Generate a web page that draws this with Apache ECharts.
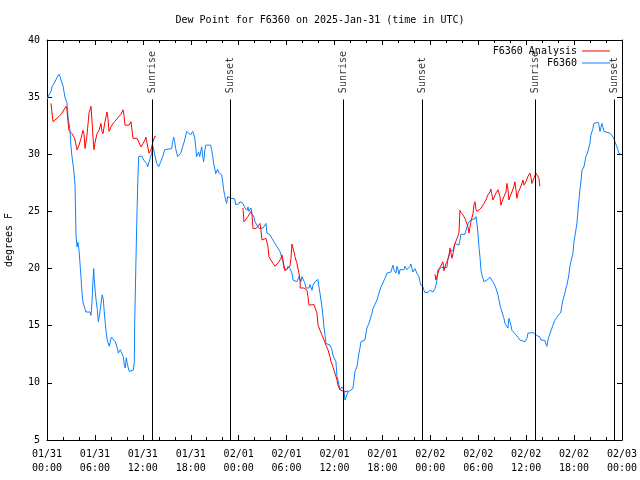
<!DOCTYPE html>
<html><head><meta charset="utf-8">
<script src="https://cdn.jsdelivr.net/npm/echarts@6/dist/echarts.min.js"></script>
<style>html,body{margin:0;padding:0;background:#fff}#c{width:640px;height:480px}</style>
</head><body><div id="c"></div>
<script>
// hours since 2025-01-31 00:00 UTC
const obsHours = [0.00,0.25,0.50,0.63,0.88,1.00,1.25,1.50,1.63,1.75,2.00,2.25,2.50,2.63,2.88,3.00,3.13,3.26,3.38,3.51,3.63,3.76,3.88,4.01,4.13,4.26,4.38,4.51,4.76,4.88,5.38,5.51,5.63,5.76,5.85,5.92,6.05,6.17,6.30,6.42,6.55,6.80,6.92,7.05,7.17,7.30,7.42,7.55,7.80,8.05,8.30,8.55,8.80,8.93,9.18,9.43,9.55,9.68,9.80,9.93,10.05,10.18,10.30,10.43,10.55,10.80,10.93,10.98,11.11,11.23,11.36,11.48,11.86,12.11,12.48,12.61,12.86,13.11,13.23,13.36,13.48,13.73,13.98,14.24,14.49,14.74,14.99,15.61,15.74,15.86,15.99,16.11,16.36,16.49,16.74,16.99,17.24,17.49,17.74,17.99,18.24,18.49,18.62,18.74,18.99,19.12,19.24,19.37,19.49,19.62,19.74,19.87,19.99,20.49,20.62,20.75,20.87,21.00,21.12,21.37,21.50,21.75,21.87,22.00,22.12,22.25,22.37,22.50,22.62,22.87,23.00,23.25,23.50,23.62,24.00,24.16,24.41,24.54,24.79,25.04,25.17,25.29,25.54,25.67,25.92,26.04,26.29,26.54,26.79,27.04,27.29,27.42,27.54,27.92,28.17,28.42,28.67,28.92,29.17,29.30,29.42,29.55,29.67,29.80,30.05,30.17,30.30,30.42,30.55,30.67,30.80,31.05,31.30,31.43,31.55,31.68,31.80,31.93,32.05,32.18,32.30,32.43,32.68,32.80,32.93,33.18,33.30,33.55,33.80,33.93,34.05,34.18,34.30,34.43,34.56,34.68,34.81,34.93,35.06,35.43,35.56,35.68,35.81,36.06,36.18,36.31,36.43,36.56,36.68,36.81,36.93,37.18,37.31,37.43,37.56,37.69,37.94,38.31,38.44,38.56,38.81,38.94,39.06,39.19,39.31,39.56,39.81,39.94,40.06,40.31,40.44,40.69,40.82,41.07,41.32,41.57,41.82,42.07,42.32,42.57,42.82,43.07,43.19,43.32,43.44,43.69,43.82,43.95,44.07,44.20,44.45,44.70,44.82,44.95,45.07,45.20,45.32,45.45,45.57,45.70,45.82,46.07,46.20,46.32,46.57,46.70,46.82,47.08,47.20,47.33,47.70,47.95,48.20,48.33,48.58,48.70,48.83,48.95,49.20,49.45,50.08,50.21,50.33,50.46,50.71,50.83,50.96,51.08,51.21,51.58,51.71,51.83,52.33,52.58,52.83,52.96,53.21,53.59,53.71,53.84,53.96,54.09,54.21,54.34,54.46,54.59,54.71,54.96,55.21,55.46,55.71,55.96,56.21,56.47,56.72,56.97,57.22,57.34,57.59,57.72,57.84,57.97,58.09,58.22,58.47,58.72,58.84,58.97,59.22,59.47,59.85,60.10,60.22,60.47,60.85,61.10,61.22,61.47,61.72,61.85,62.35,62.47,62.60,62.73,62.85,62.98,63.23,63.35,63.60,63.85,64.10,64.35,64.48,64.60,64.85,64.98,65.10,65.23,65.35,65.48,65.60,65.73,65.86,65.98,66.23,66.36,66.48,66.61,66.73,66.86,66.98,67.23,67.36,67.48,67.73,67.86,67.98,68.11,68.36,68.48,68.61,68.99,69.11,69.24,69.36,69.49,69.61,69.74,69.86,70.49,70.74,70.99,71.11,71.36,71.49,71.61,71.86];
const obsDewF = [34.8,35.2,35.5,35.9,36.2,36.3,36.7,37.0,36.8,36.5,36.0,35.0,34.5,33.3,32.1,30.7,29.8,29.1,28.4,27.3,23.0,21.9,22.3,21.6,20.5,19.2,17.9,17.0,16.5,16.2,16.2,15.9,17.0,19.0,20.0,19.0,17.9,17.1,16.4,15.35,15.8,15.9,17.7,17.3,16.2,15.2,14.35,13.75,13.2,14.0,13.9,13.6,13.05,12.6,12.9,12.9,12.3,11.55,11.3,12.2,11.7,11.3,11.0,10.85,11.1,11.1,11.85,15.2,19.7,23.7,27.45,29.8,29.85,29.5,29.2,28.9,29.5,30.1,30.8,30.65,30.0,29.2,28.9,29.35,29.8,30.4,30.5,30.5,31.1,31.5,31.1,30.5,29.8,29.65,30.1,30.65,31.25,32.0,32.1,31.7,32.0,31.5,30.65,29.8,30.2,29.8,30.2,30.65,29.8,29.35,30.2,30.8,30.95,30.8,30.4,29.8,29.2,28.8,28.3,28.7,28.4,28.3,28.2,27.6,26.9,26.4,26.0,25.7,26.3,26.3,26.15,26.15,26.1,25.6,25.65,25.85,26.0,25.7,25.3,25.1,25.4,25.0,25.3,24.8,24.5,24.1,23.95,23.5,23.4,23.55,23.65,23.95,23.1,22.95,22.65,22.35,22.05,21.8,21.5,21.2,20.9,20.6,20.0,19.9,19.9,20.2,20.3,20.0,19.9,19.6,19.0,19.15,18.85,19.0,19.3,19.15,18.85,19.3,19.45,19.15,18.7,18.3,18.45,18.3,18.6,18.1,18.55,18.85,19.0,19.05,18.4,17.85,17.25,16.65,15.8,14.9,14.2,13.45,13.3,13.3,13.15,12.9,12.4,12.3,11.85,10.55,10.25,10.4,9.4,9.35,9.65,9.35,8.5,8.35,8.5,9.2,9.3,9.5,10.25,11.0,11.4,12.0,12.6,13.05,13.6,13.7,13.75,14.35,14.8,15.2,15.5,16.1,16.5,16.65,17.25,17.85,18.4,18.55,19.15,19.6,19.7,19.7,20.0,20.3,19.9,19.6,20.2,19.9,19.5,19.9,20.0,19.9,20.2,20.3,19.9,19.75,20.0,20.2,20.4,20.0,19.7,20.0,19.9,19.6,19.3,18.85,18.55,18.4,18.1,17.9,17.9,18.1,18.25,17.95,18.25,18.55,19.0,19.9,20.0,20.1,20.1,20.9,21.2,21.5,21.4,21.6,21.9,22.2,22.05,22.05,22.5,23.0,23.0,23.65,24.1,24.25,24.3,24.35,24.55,23.95,23.1,21.9,21.05,19.9,19.45,19.15,18.85,18.85,19.05,19.25,19.15,18.7,18.3,17.7,16.8,16.2,15.65,15.2,15.15,14.8,15.65,15.35,15.05,14.6,14.5,14.2,14.05,14.0,13.75,13.6,13.6,13.9,14.35,14.5,14.4,14.5,14.2,14.1,14.0,13.75,13.7,13.4,13.2,13.75,14.05,14.2,14.8,15.05,15.5,15.75,15.8,16.2,16.8,17.25,17.85,18.3,18.55,19.0,19.45,20.2,20.6,20.75,21.35,22.3,23.4,24.0,25.0,26.0,26.9,27.6,28.6,28.9,29.35,29.8,30.25,30.4,30.95,31.7,32.25,32.7,32.8,32.8,32.6,32.0,32.35,32.7,32.35,32.0,31.85,31.85,31.7,31.4,31.1,30.65,30.4,30.1,30.0];

const anaHours1 = [0.50,0.75,1.00,1.50,1.88,2.38,2.50,2.63,2.75,3.13,3.38,3.51,3.76,4.01,4.26,4.51,4.63,4.76,4.88,5.01,5.26,5.51,5.63,5.76,5.88,6.01,6.26,6.51,6.76,6.89,7.01,7.26,7.51,7.64,7.76,8.01,8.26,8.51,8.76,9.01,9.26,9.52,9.64,9.77,10.02,10.27,10.52,10.64,10.77,11.02,11.27,11.52,11.77,12.02,12.27,12.39,12.52,12.77,13.02,13.27,13.52,13.65];
const anaDewF1 = [34.45,32.85,33.0,33.3,33.6,34.2,33.9,32.85,32.1,31.8,31.5,31.25,30.4,30.8,31.4,32.1,31.8,30.5,31.1,31.7,33.6,34.2,33.0,31.5,30.4,31.0,31.8,32.1,32.7,32.0,31.8,32.85,33.7,33.1,32.0,32.4,32.7,32.9,32.9,33.3,33.5,33.9,33.4,32.55,32.4,32.55,32.85,32.7,31.4,31.25,31.4,31.25,30.65,30.95,31.25,31.5,31.0,30.1,30.4,31.1,31.6,31.55];
const anaHours2 = [24.54,24.66,25.17,25.54,25.67,25.79,26.17,26.29,26.67,26.79,26.92,27.42,27.67,27.79,28.04,28.30,28.55,28.80,29.05,29.30,29.42,29.67,29.80,30.05,30.42,30.55,30.67,30.80,30.92,31.05,31.17,31.30,31.43,31.55,31.68,31.71,32.18,32.30,32.55,32.68,32.80,33.43,33.68,33.80,33.93,34.18,34.43,34.68,34.93,35.18,35.43,35.56,35.81,36.06,36.31,36.43,36.68,36.93,37.31,37.69];
const anaDewF2 = [25.3,24.1,24.55,25.0,24.7,23.5,23.5,23.65,23.95,23.4,22.5,22.65,21.9,21.05,20.75,20.45,20.2,20.3,20.6,20.9,21.2,20.3,19.8,20.0,20.2,20.9,22.15,21.8,21.5,21.05,20.75,20.45,20.0,19.6,19.0,18.3,18.3,18.45,18.1,17.55,16.8,16.85,16.8,16.1,15.1,14.6,14.2,13.75,13.3,12.9,12.3,11.85,11.4,10.85,10.25,9.8,9.4,9.35,9.2,9.3];
const anaHours3 = [48.58,48.70,49.08,49.20,49.45,49.58,49.70,49.95,50.08,50.33,50.46,50.58,50.71,50.83,51.08,51.33,51.58,51.71,51.83,52.08,52.33,52.58,52.71,52.83,52.96,53.08,53.34,53.46,53.59,53.71,53.84,54.21,54.46,54.71,54.96,55.21,55.46,55.59,55.71,55.84,55.96,56.21,56.47,56.72,56.84,56.97,57.22,57.47,57.59,57.72,57.84,57.97,58.22,58.47,58.59,58.72,58.84,58.97,59.22,59.47,59.60,59.72,59.97,60.22,60.47,60.60,60.72,60.97,61.22,61.47,61.60,61.72];
const anaDewF3 = [19.5,19.0,19.9,20.1,20.15,20.6,19.8,20.4,20.6,21.05,21.8,21.9,20.9,21.3,22.2,22.6,23.1,25.1,24.9,24.7,24.4,24.25,23.65,23.1,23.6,24.1,24.8,25.55,25.85,25.2,25.0,25.2,25.4,25.55,26.0,26.45,26.7,26.95,26.45,26.0,26.15,26.6,26.9,26.3,25.55,25.85,26.3,26.7,27.45,26.9,26.0,26.3,26.7,27.2,27.6,26.9,26.15,26.6,27.0,27.45,27.75,27.3,27.6,28.05,28.35,28.0,27.45,27.9,28.35,28.5,27.9,27.2];

const sunEvents = ['Sunrise','Sunset','Sunrise','Sunset','Sunrise','Sunset'];
const sunHours = [13.19,22.96,37.10,47.00,61.15,71.09];

const xTickLabels = ['01/31\n00:00','01/31\n06:00','01/31\n12:00','01/31\n18:00','02/01\n00:00','02/01\n06:00','02/01\n12:00','02/01\n18:00','02/02\n00:00','02/02\n06:00','02/02\n12:00','02/02\n18:00','02/03\n00:00'];
const yTicks = [5,10,15,20,25,30,35,40];

const FONT = 'DejaVu Sans Mono';
const LINE_TOP = 34.8, LABEL_Y = 35.35;
const zip = (a, b) => a.map((t, i) => [t, b[i]]);

const chart = echarts.init(document.getElementById('c'), null, {renderer: 'canvas'});
const xBase = {
  type: 'value', min: 0, max: 72, interval: 6,
  axisLine: {show: true, onZero: false, lineStyle: {color: '#000', width: 1}},
  axisTick: {show: true, inside: true, length: 5, lineStyle: {color: '#000'}},
  minorTick: {show: true, splitNumber: 3, length: 3, lineStyle: {color: '#000'}},
  splitLine: {show: false}, minorSplitLine: {show: false}
};
const yBase = {
  type: 'value', min: yTicks[0], max: yTicks[yTicks.length - 1], interval: 5,
  axisLine: {show: true, onZero: false, lineStyle: {color: '#000', width: 1}},
  axisTick: {show: true, inside: true, length: 5, lineStyle: {color: '#000'}},
  splitLine: {show: false}
};
const analysisStyle = {type: 'line', name: 'F6360 Analysis', showSymbol: false, symbol: 'none',
  lineStyle: {color: '#ff0000', width: 1}, itemStyle: {color: '#ff0000'}, animation: false, z: 4};

chart.setOption({
  animation: false,
  textStyle: {fontFamily: FONT},
  title: {text: 'Dew Point for F6360 on 2025-Jan-31 (time in UTC)', left: 'center', top: 10,
    textStyle: {fontFamily: FONT, fontSize: 10, fontWeight: 'normal', color: '#000'}},
  grid: {left: 47, right: 18, top: 40, bottom: 40, containLabel: false, outerBoundsMode: 'none'},
  legend: {
    data: ['F6360 Analysis', 'F6360'], orient: 'vertical', right: 25, top: 41, align: 'right',
    itemWidth: 28, itemHeight: 1, itemGap: 2, icon: 'rect',
    textStyle: {fontFamily: FONT, fontSize: 10, color: '#000', padding: [0, 0, 0, 0]}
  },
  xAxis: [
    Object.assign({}, xBase, {position: 'bottom',
      axisLabel: {show: true, margin: 7, color: '#000', fontFamily: FONT, fontSize: 10, lineHeight: 14,
        formatter: v => xTickLabels[Math.round(v / 6)]}}),
    Object.assign({}, xBase, {position: 'top', axisLabel: {show: false}})
  ],
  yAxis: [
    Object.assign({}, yBase, {position: 'left', name: 'degrees F', nameLocation: 'middle', nameGap: 33,
      nameTextStyle: {fontFamily: FONT, fontSize: 10, color: '#000'},
      axisLabel: {show: true, margin: 7, color: '#000', fontFamily: FONT, fontSize: 10}}),
    Object.assign({}, yBase, {position: 'right', axisLabel: {show: false}})
  ],
  series: [
    Object.assign({}, analysisStyle, {data: zip(anaHours1, anaDewF1)}),
    Object.assign({}, analysisStyle, {data: zip(anaHours2, anaDewF2)}),
    Object.assign({}, analysisStyle, {data: zip(anaHours3, anaDewF3)}),
    {type: 'line', name: 'F6360', showSymbol: false, symbol: 'none', data: zip(obsHours, obsDewF),
      lineStyle: {color: '#0d80ff', width: 1}, itemStyle: {color: '#0d80ff'}, z: 3},
    {type: 'scatter', name: 'sun', symbolSize: 0, silent: true, z: 5,
      data: sunHours.map((t, i) => ({value: [t, LABEL_Y], name: sunEvents[i]})),
      label: {show: true, position: 'inside', rotate: 90, align: 'left', verticalAlign: 'middle',
        formatter: p => p.name, color: '#000', fontFamily: FONT, fontSize: 10},
      markLine: {silent: true, symbol: 'none', animation: false,
        lineStyle: {color: '#000', width: 1, type: 'solid'}, label: {show: false},
        data: sunHours.map(t => [{coord: [t, yTicks[0]]}, {coord: [t, LINE_TOP]}])}
    }
  ]
});
</script></body></html>
